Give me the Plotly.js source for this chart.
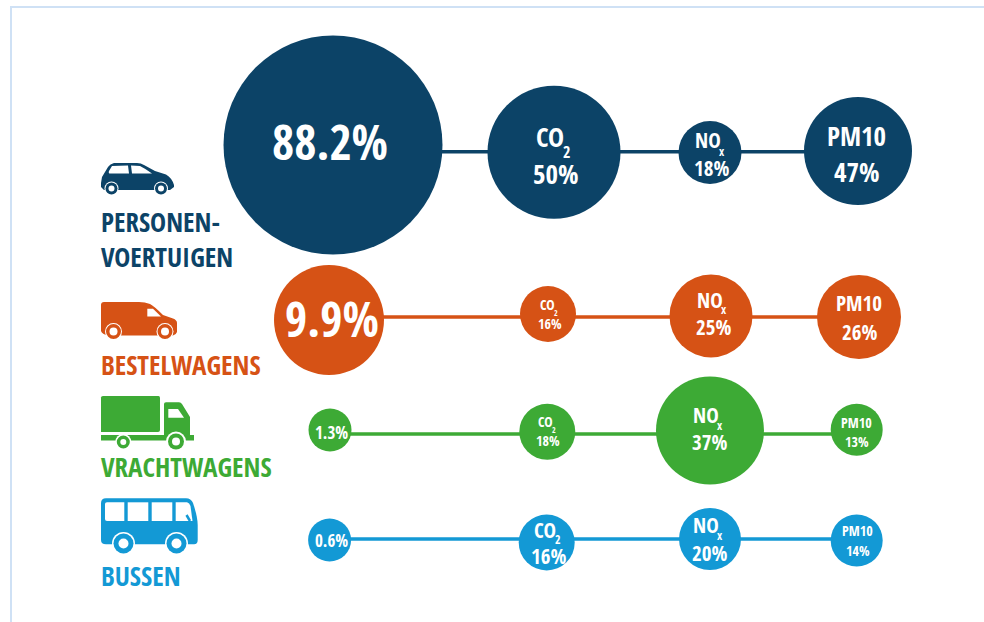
<!DOCTYPE html>
<html>
<head>
<meta charset="utf-8">
<script src="https://cdn.plot.ly/plotly-3.0.1.min.js"></script>
<style>html,body{margin:0;padding:0;background:#fff}#chart{width:984px;height:622px}</style>
</head>
<body>
<div id="chart"></div>
<script>
// ---- data ----
const categories = ['PERSONEN-<br>VOERTUIGEN', 'BESTELWAGENS', 'VRACHTWAGENS', 'BUSSEN'];
const share = [88.2, 9.9, 1.3, 0.6];
const co2 = [50, 16, 18, 16];
const nox = [18, 25, 37, 20];
const pm10 = [47, 26, 13, 14];

// ---- placement and styling ----
const colors = ['#0C4367', '#D65215', '#3DAA35', '#1399D5'];
const FONT = '"Open Sans Condensed","Roboto Condensed",sans-serif';
const rowLineY = [151.7, 317, 434, 539];
const centreX = [[333, 554, 710, 858], [329, 548, 711, 859], [330, 547.3, 710, 856.7], [329.6, 546.7, 710, 856.7]];
const centreY = [[145, 152.3, 152.5, 151], [320, 314, 316, 317], [430, 431.8, 430.5, 429.7], [540, 542.5, 539, 540.5]];
const diameters = [[219, 133, 63, 108], [110, 56, 83, 84], [43, 56, 108, 52], [43, 56, 62, 52]];
const labelSizes = [[48, 27, 21, 27], [48, 14, 21, 21], [17, 14, 21, 14], [17, 21, 21, 14]];
const labelX = [[330, 555, 711, 856.5], [331.5, 550, 713, 859], [331.5, 547.7, 709, 856.5], [331.5, 548.4, 709, 857.7]];
const valueY = [[144.5, 175, 169.7, 173.3], [321, 324.7, 327.8, 332.8], [434, 441.7, 443.7, 442], [541.5, 557.5, 553.8, 551]];
const headY = [[0, 138.3, 140.8, 136.7], [0, 305.3, 300.8, 304.2], [0, 422, 416, 423], [0, 530.8, 526.7, 531.7]];
const categoryLabelY = [238.5, 364.5, 466.5, 575.5];
const headNames = ['', 'CO', 'NO', 'PM10'];
const subNames = ['', '2', 'x', ''];
const capNudge = -0.06;

const traces = [];
const annotations = [];
const label = (t, x, y, size, color) => annotations.push({
  x, y, xref: 'x', yref: 'y', xanchor: 'center', yanchor: 'middle', align: 'center',
  showarrow: false, text: t,
  font: {family: FONT, size, color, weight: 700}
});

categories.forEach((name, r) => {
  traces.push({
    type: 'scatter', mode: 'lines', hoverinfo: 'skip', showlegend: false,
    x: [centreX[r][0], centreX[r][3]], y: [rowLineY[r], rowLineY[r]],
    line: {color: colors[r], width: 3.4}
  });
  traces.push({
    type: 'scatter', mode: 'markers', hoverinfo: 'skip', showlegend: false,
    x: centreX[r], y: centreY[r],
    marker: {size: diameters[r], sizemode: 'diameter', color: colors[r], line: {width: 0}, opacity: 1}
  });
  [share[r], co2[r], nox[r], pm10[r]].forEach((v, c) => {
    const s = labelSizes[r][c], x = labelX[r][c], vy = valueY[r][c] + capNudge * s;
    label(v + '%', x, vy, s, '#fff');
    if (c === 0) return;
    const hasSub = subNames[c] !== '';
    const headDx = hasSub ? (c === 1 ? -0.167 : -0.13) * s : 0;
    label(headNames[c], x + headDx, headY[r][c] + capNudge * s, s, '#fff');
    if (hasSub) {
      const subDx = (c === 1 ? 0.44 : 0.52) * s;
      const subUp = (c === 1 ? 0.785 : 0.8) * s;
      label(subNames[c], x + subDx, vy - subUp, Math.round(s * 0.58), '#fff');
    }
  });
});

// ---- pictograms, drawn as layout shapes in the pixel-aligned axes ----
const shapes = [];
const path = (d, fill) => shapes.push({type: 'path', path: d, fillcolor: fill, line: {width: 0}, layer: 'above'});
const disc = (cx, cy, r, fill) => shapes.push({type: 'circle', x0: cx - r, x1: cx + r, y0: cy - r, y1: cy + r, fillcolor: fill, line: {width: 0}, layer: 'above'});
const wheel = (cx, cy, gap, tyre, hub, col) => { disc(cx, cy, gap, '#fff'); disc(cx, cy, tyre, col); disc(cx, cy, hub, '#fff'); };

// frame
shapes.push({type: 'line', x0: 11, x1: 11, y0: 7, y1: 622, line: {color: '#CFE1F5', width: 2}, layer: 'below'});
shapes.push({type: 'line', x0: 10, x1: 984, y0: 7, y1: 7, line: {color: '#CFE1F5', width: 2}, layer: 'below'});

// car
path('M101,183 L102,177 L108,167 Q110,164 114,163 L137,163 Q141,163 144,165 L155,171 L166,174.5 Q172,178 174,185 L174,187 L170,190 L104,190 L101,187 Z', colors[0]);
path('M112,166 L128,165.5 L129,173.5 L111,173.5 Q108,174 109,171 Z', '#fff');
path('M131,165.5 L140,166 Q146,169 152,173.5 L132,173.5 Z', '#fff');
wheel(111.5, 188.5, 7, 6, 3, colors[0]);
wheel(161, 188.5, 7, 6, 3, colors[0]);

// van
path('M101,305 Q101,302 104,302 L139,302 Q145,302 150,304 Q154,306 163,315 L173,318.5 Q177,320 177,323 L177,332 Q176,335 173,335.5 L108,335.5 Q102,334 101,331 Z', colors[1]);
path('M147.3,308.7 L153,308.7 L161,316.5 L147.3,316.5 Z', '#fff');
wheel(113.5, 331.5, 8.5, 7.5, 4, colors[1]);
wheel(165, 331.5, 8.5, 7.5, 4, colors[1]);

// truck
path('M101,397.5 Q101,396 103,396 L158.5,396 Q160,396 160,398 L160,430 Q160,432 158,432 L101,432 Z', colors[2]);
path('M101,435 L164,435 L164,404 Q164,402.3 166,402.3 L179,402.3 Q181,402.3 182,404 L190,417 L190,435 L194,435 L194,440.5 L101,440.5 Z', colors[2]);
path('M168.3,409 L178,409 L184,417.7 L168.3,417.7 Z', '#fff');
wheel(123.3, 442, 8, 6.5, 3, colors[2]);
wheel(176, 441.5, 10, 8, 4, colors[2]);

// bus
path('M101,503 Q101,498.3 106,498.3 L186,498.3 Q191,498.3 193,503 Q197.7,517 197.7,525 L197.7,540 Q197.7,544.3 194,544.3 L106,544.3 Q101,544.3 101,540 Z', colors[3]);
path('M107,502.3 L124.3,502.3 L124.3,521 L107,521 Q105,521 105,519 L105,504 Q105,502.3 107,502.3 Z', '#fff');
path('M127.7,502.3 L148.3,502.3 L148.3,521 L127.7,521 Z', '#fff');
path('M151.7,502.3 L172.3,502.3 L172.3,521 L151.7,521 Z', '#fff');
path('M175.7,502.3 L187,502.3 Q189.5,503 190.5,506 L192.5,521 L175.7,521 Z', '#fff');
shapes.push({type: 'line', x0: 186.5, x1: 190, y0: 515, y1: 521, line: {color: colors[3], width: 2.5}, layer: 'above'});
wheel(123.5, 543.5, 11.5, 10, 5, colors[3]);
wheel(176.5, 543.5, 11.5, 10, 5, colors[3]);

// ---- vehicle names ----
categories.forEach((name, r) => annotations.push({
  x: 99, y: categoryLabelY[r], xref: 'x', yref: 'y', xanchor: 'left', yanchor: 'middle', align: 'left',
  showarrow: false, text: name,
  font: {family: FONT, size: 27, color: colors[r], weight: 700}
}));

const layout = {
  width: 984, height: 622,
  margin: {l: 0, r: 0, t: 0, b: 0, pad: 0},
  paper_bgcolor: '#fff', plot_bgcolor: '#fff',
  showlegend: false, hovermode: false,
  xaxis: {range: [0, 984], visible: false, fixedrange: true},
  yaxis: {range: [622, 0], visible: false, fixedrange: true},
  shapes, annotations
};
Plotly.newPlot('chart', traces, layout, {displayModeBar: false, staticPlot: true});
</script>
</body>
</html>
